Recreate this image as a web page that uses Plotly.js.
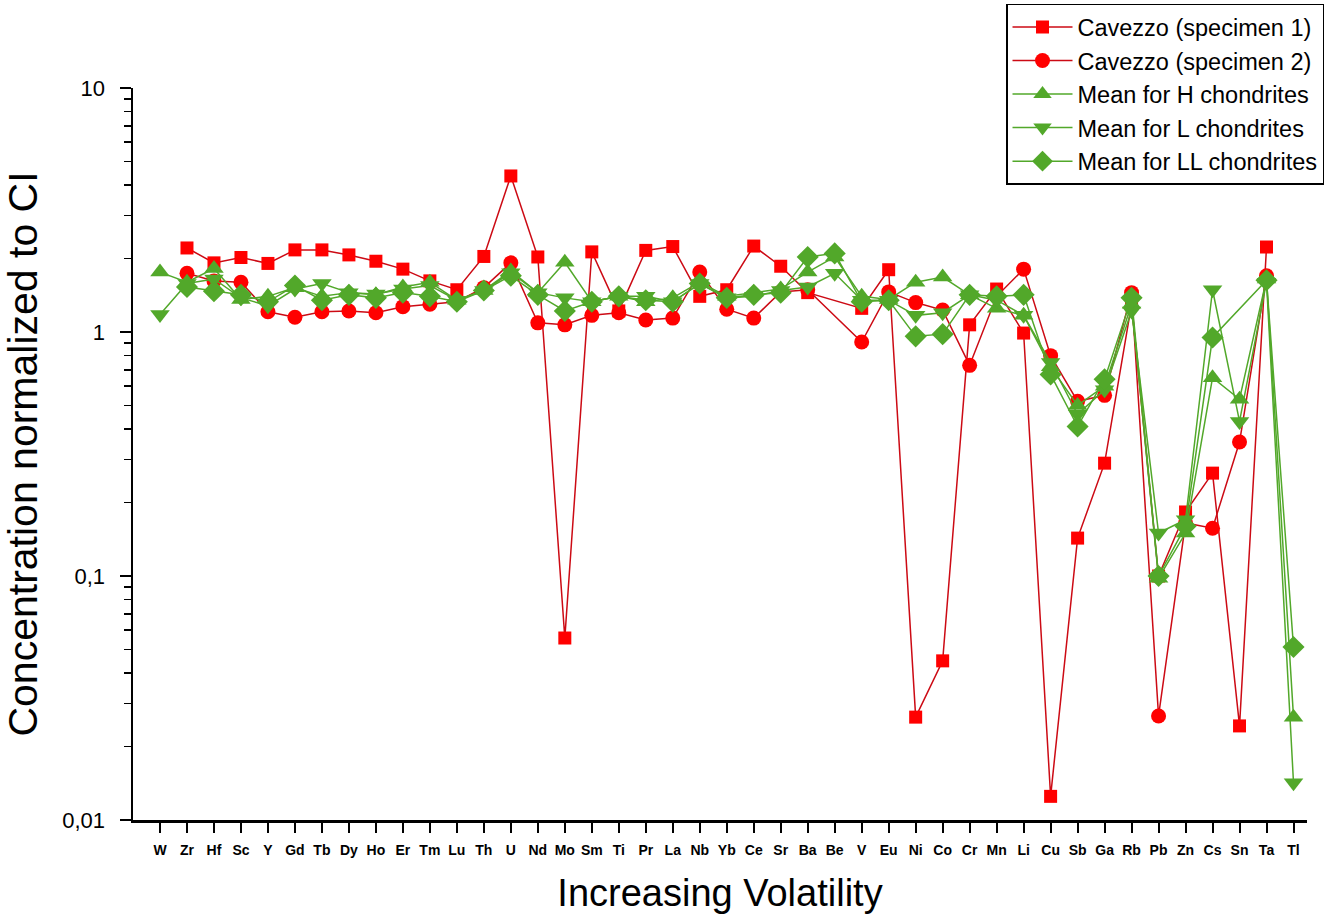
<!DOCTYPE html>
<html>
<head>
<meta charset="utf-8">
<script src="https://cdn.plot.ly/plotly-3.0.1.min.js"></script>
<style>html,body{margin:0;padding:0;background:#fff;}#chart{width:1336px;height:917px;}</style>
</head>
<body>
<div id="chart"></div>
<script>
const categories = ['W','Zr','Hf','Sc','Y','Gd','Tb','Dy','Ho','Er','Tm','Lu','Th','U','Nd','Mo','Sm','Ti','Pr','La','Nb','Yb','Ce','Sr','Ba','Be','V','Eu','Ni','Co','Cr','Mn','Li','Cu','Sb','Ga','Rb','Pb','Zn','Cs','Sn','Ta','Tl'];

const specimen1 = [null,2.21,1.92,2.02,1.91,2.17,2.17,2.07,1.95,1.81,1.62,1.49,2.04,4.36,2.03,0.0557,2.13,1.22,2.16,2.24,1.40,1.49,2.25,1.86,1.45,null,1.25,1.80,0.0264,0.0449,1.07,1.50,0.99,0.0125,0.143,0.290,1.30,0.100,0.183,0.264,0.0243,2.23,null];

const specimen2 = [null,1.74,1.62,1.60,1.21,1.15,1.21,1.22,1.20,1.27,1.30,1.33,1.52,1.92,1.09,1.07,1.17,1.20,1.12,1.14,1.76,1.24,1.14,1.46,1.49,null,0.91,1.46,1.32,1.23,0.73,1.40,1.81,0.80,0.52,0.55,1.45,0.0267,0.165,0.157,0.354,1.70,null];

const meanH = [1.76,1.60,1.82,1.36,1.40,1.52,1.40,1.45,1.42,1.53,1.60,1.35,1.48,1.78,1.45,1.93,1.33,1.40,1.33,1.38,1.60,1.40,1.45,1.50,1.76,2.03,1.40,1.36,1.60,1.68,1.42,1.25,1.17,0.72,0.50,0.60,1.30,0.098,0.15,0.65,0.53,1.65,0.0264];

const meanL = [1.18,1.58,1.65,1.38,1.28,1.50,1.58,1.45,1.43,1.50,1.55,1.35,1.48,1.75,1.45,1.38,1.33,1.40,1.40,1.33,1.58,1.38,1.40,1.48,1.53,1.74,1.35,1.35,1.17,1.20,1.42,1.35,1.17,0.75,0.46,0.58,1.22,0.15,0.17,1.49,0.43,1.60,0.0142];

const meanLL = [null,1.53,1.47,1.42,1.33,1.55,1.35,1.42,1.38,1.45,1.40,1.33,1.48,1.70,1.42,1.22,1.33,1.40,1.35,1.33,1.58,1.38,1.42,1.45,2.03,2.10,1.33,1.35,0.96,0.98,1.42,1.40,1.42,0.67,0.41,0.64,1.38,0.10,0.16,0.95,null,1.63,0.0512];

const seriesNames = ['Cavezzo (specimen 1)','Cavezzo (specimen 2)','Mean for H chondrites','Mean for L chondrites','Mean for LL chondrites'];
const yTickVals = [0.01,0.1,1,10];
const yTickText = ['0,01','0,1','1','10'];

const RED_M = '#ff0000', RED_L = '#cc0a14', GRN = '#52a82a';
const FONT = 'Arial, "Liberation Sans", sans-serif';

function tr(name, y, symbol, size, mcol, lcol){
  return {x: categories, y: y, name: name, type: 'scatter', mode: 'lines+markers',
    connectgaps: true,
    line: {color: lcol, width: 1.5},
    marker: {symbol: symbol, size: size, color: mcol, line: {width: 0}}};
}

const data = [
  tr(seriesNames[0], specimen1, 'square', 13, RED_M, RED_L),
  tr(seriesNames[1], specimen2, 'circle', 15, RED_M, RED_L),
  tr(seriesNames[2], meanH, 'triangle-up', 17, GRN, GRN),
  tr(seriesNames[3], meanL, 'triangle-down', 17, GRN, GRN),
  tr(seriesNames[4], meanLL, 'diamond', 17, GRN, GRN)
];

const minorVals = [];
for (let e = -2; e < 1; e++) for (let m = 2; m <= 9; m++) minorVals.push(m * Math.pow(10, e));

const layout = {
  width: 1336, height: 917,
  margin: {l: 133, r: 29, t: 88, b: 97, autoexpand: false},
  paper_bgcolor: '#fff', plot_bgcolor: '#fff',
  font: {family: FONT, color: '#000'},
  showlegend: true,
  legend: {xref: 'container', yref: 'container', x: 0.753, y: 0.996, xanchor: 'left', yanchor: 'top',
    bordercolor: '#000', borderwidth: 1.5, bgcolor: '#fff',
    font: {size: 23.5, family: FONT, color: '#000'}, tracegroupgap: 0, itemwidth: 60},
  xaxis: {type: 'category', range: [-1, 42.5],
    showline: true, linecolor: '#000', linewidth: 2.5, mirror: false,
    showgrid: false, zeroline: false,
    ticks: 'outside', ticklen: 10, tickwidth: 2, tickcolor: '#000',
    ticklabelstandoff: 6,
    tickfont: {size: 14, family: FONT, weight: 'bold', color: '#000'},
    tickangle: 0,
    title: {text: 'Increasing Volatility', font: {size: 38, family: FONT, color: '#000'}, standoff: 22}},
  yaxis: {type: 'log', range: [-2, 1],
    showline: true, linecolor: '#000', linewidth: 2.5, mirror: false,
    showgrid: false, zeroline: false,
    tickvals: yTickVals, ticktext: yTickText,
    ticks: 'outside', ticklen: 11, tickwidth: 2, tickcolor: '#000',
    ticklabelstandoff: 10,
    tickfont: {size: 22, family: FONT, color: '#000'},
    minor: {tickvals: minorVals, ticks: 'outside', ticklen: 7, tickwidth: 1.5, tickcolor: '#000', showgrid: false},
    title: {text: 'Concentration normalized to CI', font: {size: 41, family: FONT, color: '#000'}, standoff: 18}}
};

Plotly.newPlot('chart', data, layout, {displayModeBar: false, staticPlot: true});
</script>
</body>
</html>
